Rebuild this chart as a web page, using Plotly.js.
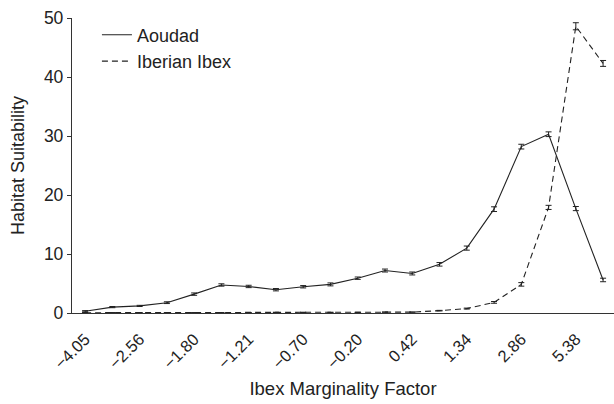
<!DOCTYPE html>
<html><head><meta charset="utf-8">
<script src="https://cdn.plot.ly/plotly-3.0.1.min.js"></script>
<style>body{margin:0;background:#fff}#c{width:614px;height:404px}</style>
</head><body><div id="c"></div>
<script>
var xIndex = [0,1,2,3,4,5,6,7,8,9,10,11,12,13,14,15,16,17,18,19];
var tickIdx = [0,2,4,6,8,10,12,14,16,18];
var tickLabels = ["\u22124.05","\u22122.56","\u22121.80","\u22121.21","\u22120.70","\u22120.20","0.42","1.34","2.86","5.38"];
var aoudad = [0.3,1.0,1.2,1.75,3.2,4.75,4.5,3.95,4.45,4.85,5.9,7.2,6.7,8.25,11.0,17.6,28.2,30.3,17.7,5.6];
var aoudadErr = [0.1,0.1,0.1,0.15,0.2,0.2,0.2,0.2,0.2,0.25,0.2,0.25,0.25,0.3,0.35,0.4,0.4,0.4,0.35,0.3];
var ibex = [0.05,0.05,0.05,0.05,0.05,0.05,0.05,0.1,0.1,0.1,0.1,0.15,0.15,0.4,0.75,1.8,4.85,17.9,48.6,42.3];
var ibexErr = [0.02,0.02,0.02,0.02,0.02,0.02,0.02,0.03,0.03,0.03,0.03,0.03,0.03,0.05,0.08,0.15,0.3,0.35,0.6,0.5];

var traces = [
  {x: xIndex, y: aoudad, name: "Aoudad", type: "scatter", mode: "lines",
   line: {color: "#222", width: 1.1},
   error_y: {type: "data", array: aoudadErr, visible: true, color: "#222", thickness: 1, width: 3}},
  {x: xIndex, y: ibex, name: "Iberian Ibex", type: "scatter", mode: "lines",
   line: {color: "#222", width: 1.1, dash: "6px,4px"},
   error_y: {type: "data", array: ibexErr, visible: true, color: "#222", thickness: 1, width: 3}}
];
var layout = {
  width: 614, height: 404,
  margin: {l: 72, r: 0, t: 18, b: 91},
  paper_bgcolor: "#fff", plot_bgcolor: "#fff",
  font: {family: "Liberation Sans, Arial, sans-serif", size: 16, color: "#222"},
  showlegend: true,
  legend: {x: 0.046, y: 1.005, xanchor: "left", yanchor: "top", bgcolor: "rgba(0,0,0,0)",
           font: {size: 18}, itemwidth: 30, tracegroupgap: 0},
  xaxis: {range: [-0.48, 19.4], tickmode: "array", tickvals: tickIdx, ticktext: tickLabels,
          tickangle: -45, showgrid: false, zeroline: false, showline: true, linecolor: "#333",
          linewidth: 1.3, ticks: "outside", ticklen: 9, tickcolor: "rgba(0,0,0,0)", tickfont: {size: 16.5},
          title: {text: "Ibex Marginality Factor", font: {size: 18.5}, standoff: 10}},
  yaxis: {range: [0, 50], tickvals: [0,10,20,30,40,50], showgrid: false, zeroline: false,
          showline: true, linecolor: "#333", linewidth: 1.3, ticks: "outside", ticklen: 4,
          tickcolor: "#333", tickfont: {size: 17.5},
          title: {text: "Habitat Suitability", font: {size: 18}, standoff: 14}}
};
Plotly.newPlot("c", traces, layout, {displayModeBar: false});
</script></body></html>
